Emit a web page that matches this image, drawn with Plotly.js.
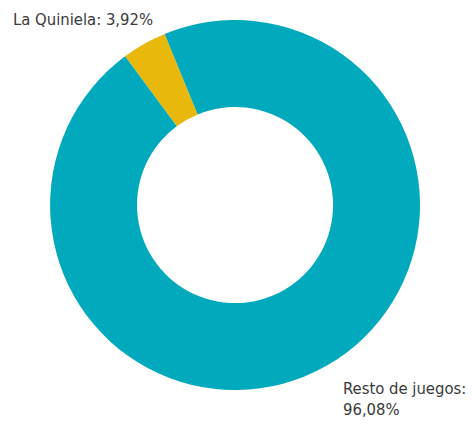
<!DOCTYPE html>
<html>
<head>
<meta charset="utf-8">
<script src="https://cdn.plot.ly/plotly-3.0.1.min.js"></script>
<style>html,body{margin:0;padding:0;background:#fff;}#chart{width:472px;height:427px;}</style>
</head>
<body>
<div id="chart"></div>
<script>
const labels = ["La Quiniela", "Resto de juegos"];
const values = [3.92, 96.08];
const valueTexts = ["3,92%", "96,08%"];
const colors = ["#e8b80b", "#00a9bc"];

const font = "DejaVu Sans Condensed, Liberation Sans Narrow, sans-serif";

const trace = {
  type: "pie",
  labels: labels,
  values: values,
  hole: 0.53,
  sort: false,
  direction: "clockwise",
  rotation: -36.5,
  marker: {colors: colors, line: {width: 0}},
  textinfo: "none",
  hoverinfo: "none",
  showlegend: false,
  domain: {x: [0.106, 0.890], y: [0.0867, 0.953]}
};

const layout = {
  width: 472, height: 427,
  margin: {l: 0, r: 0, t: 0, b: 0},
  paper_bgcolor: "#ffffff",
  showlegend: false,
  annotations: [
    {text: labels[0] + ": " + valueTexts[0], xref: "paper", yref: "paper",
     x: 11/472, y: 1 - 19/427, xanchor: "left", yanchor: "middle", showarrow: false,
     font: {family: font, size: 16.5, color: "#3a3a3a"}},
    {text: labels[1] + ":<br>" + valueTexts[1], xref: "paper", yref: "paper",
     x: 341/472, y: 1 - 399/427, xanchor: "left", yanchor: "middle", align: "left", showarrow: false,
     font: {family: font, size: 16.5, color: "#3a3a3a"}}
  ]
};

Plotly.newPlot("chart", [trace], layout, {displayModeBar: false, staticPlot: true});
</script>
</body>
</html>
